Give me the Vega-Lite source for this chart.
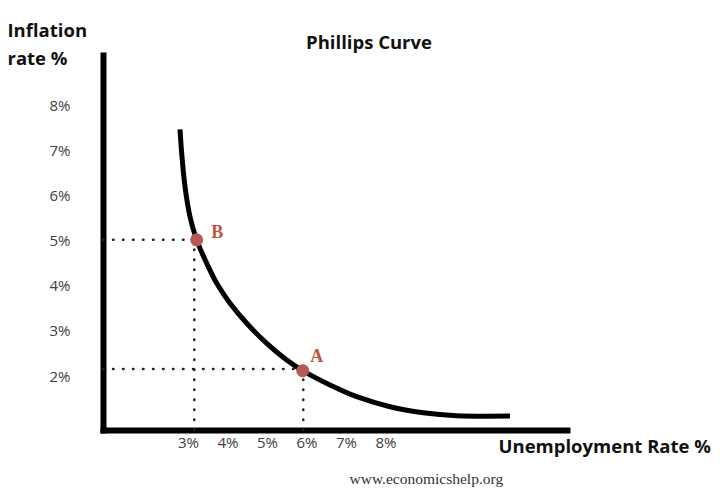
{
  "$schema": "https://vega.github.io/schema/vega-lite/v6.json",
  "width": 464,
  "height": 375,
  "autosize": {"type": "none"},
  "padding": {"left": 103, "top": 55, "right": 153, "bottom": 72},
  "background": "white",
  "config": {"view": {"stroke": null}},
  "datasets": {
    "curve": [
      {"x": 2.798, "y": 7.47},
      {"x": 2.841, "y": 6.938},
      {"x": 2.925, "y": 6.197},
      {"x": 3.051, "y": 5.532},
      {"x": 3.221, "y": 5.016},
      {"x": 3.474, "y": 4.499},
      {"x": 3.728, "y": 4.055},
      {"x": 4.064, "y": 3.612},
      {"x": 4.487, "y": 3.169},
      {"x": 4.994, "y": 2.725},
      {"x": 5.5, "y": 2.355},
      {"x": 5.905, "y": 2.118},
      {"x": 6.597, "y": 1.8},
      {"x": 7.273, "y": 1.541},
      {"x": 8.116, "y": 1.319},
      {"x": 8.959, "y": 1.186},
      {"x": 9.805, "y": 1.12},
      {"x": 11.155, "y": 1.113}
    ],
    "points": [
      {"name": "B", "x": 3.22, "y": 5.02},
      {"name": "A", "x": 5.905, "y": 2.118}
    ],
    "guides": [
      {"x": 0.848, "y": 5.02, "x2": 3.22, "y2": 5.02},
      {"x": 3.16, "y": 0.803, "x2": 3.16, "y2": 5.02},
      {"x": 0.848, "y": 2.155, "x2": 5.905, "y2": 2.155},
      {"x": 5.92, "y": 0.803, "x2": 5.92, "y2": 2.118}
    ]
  },
  "resolve": {"axis": {"x": "independent", "y": "independent"}},
  "layer": [
    {
      "data": {"name": "guides"},
      "mark": {"type": "rule", "color": "#222", "strokeWidth": 2.5, "strokeDash": [0.5, 9.5], "strokeCap": "round"},
      "encoding": {
        "x": {"field": "x", "type": "quantitative", "scale": {"domain": [0.848, 12.598], "nice": false, "zero": false}, "axis": null},
        "y": {"field": "y", "type": "quantitative", "scale": {"domain": [0.803, 9.117], "nice": false, "zero": false}, "axis": null},
        "x2": {"field": "x2"},
        "y2": {"field": "y2"}
      }
    },
    {
      "data": {"name": "curve"},
      "mark": {"type": "line", "color": "black", "strokeWidth": 5, "interpolate": "catmull-rom", "strokeCap": "butt"},
      "encoding": {
        "x": {
          "field": "x", "type": "quantitative",
          "scale": {"domain": [0.848, 12.598], "nice": false, "zero": false},
          "axis": {
            "orient": "bottom",
            "values": [3, 4, 5, 6, 7, 8],
            "labelExpr": "datum.value + '%'",
            "grid": false, "ticks": false,
            "domainColor": "black", "domainWidth": 6, "domainCap": "square",
            "labelFont": "Open Sans", "labelFontSize": 15, "labelColor": "#404040", "labelPadding": 5,
            "title": "Unemployment Rate %",
            "titleFont": "Open Sans", "titleFontSize": 18.5, "titleFontWeight": 700, "titleColor": "#111",
            "titleAlign": "left", "titleBaseline": "alphabetic", "titleX": 395, "titleY": 22
          }
        },
        "y": {
          "field": "y", "type": "quantitative",
          "scale": {"domain": [0.803, 9.117], "nice": false, "zero": false},
          "axis": {
            "orient": "left",
            "values": [2, 3, 4, 5, 6, 7, 8],
            "labelExpr": "datum.value + '%'",
            "grid": false, "ticks": false,
            "domainColor": "black", "domainWidth": 6, "domainCap": "square",
            "labelFont": "Open Sans", "labelFontSize": 15, "labelColor": "#404040", "labelPadding": 33,
            "title": ["Inflation", "rate %"],
            "titleFont": "Open Sans", "titleFontSize": 18.5, "titleFontWeight": 700, "titleColor": "#111",
            "titleAngle": 0, "titleAlign": "left", "titleBaseline": "alphabetic",
            "titleX": -96, "titleY": -19, "titleLineHeight": 28
          }
        }
      }
    },
    {
      "data": {"name": "points"},
      "mark": {"type": "circle", "color": "#b5585a", "opacity": 1, "size": 170},
      "encoding": {
        "x": {
          "field": "x", "type": "quantitative",
          "scale": {"domain": [0.848, 12.598], "nice": false, "zero": false},
          "axis": {
            "orient": "top", "domain": false, "ticks": false, "labels": false, "grid": false,
            "title": "Phillips Curve",
            "titleFont": "Open Sans", "titleFontSize": 18.5, "titleFontWeight": 700, "titleColor": "#111",
            "titleAlign": "center", "titleBaseline": "alphabetic", "titleX": 265.5, "titleY": -7
          }
        },
        "y": {
          "field": "y", "type": "quantitative",
          "scale": {"domain": [0.803, 9.117], "nice": false, "zero": false},
          "axis": {
            "orient": "right", "domain": false, "ticks": false, "labels": false, "grid": false,
            "title": "www.economicshelp.org",
            "titleFont": "Liberation Serif", "titleFontSize": 15.5, "titleFontWeight": "normal", "titleColor": "#333",
            "titleAngle": 0, "titleAlign": "left", "titleBaseline": "alphabetic", "titleX": -218, "titleY": 428
          }
        }
      }
    },
    {
      "data": {"name": "points"},
      "transform": [{"filter": "datum.name === 'B'"}],
      "mark": {"type": "text", "color": "#c4523f", "font": "Liberation Serif", "fontSize": 18, "fontWeight": "bold", "align": "center", "baseline": "middle", "dx": 20.5, "dy": -6.7},
      "encoding": {
        "x": {"field": "x", "type": "quantitative", "scale": {"domain": [0.848, 12.598], "nice": false, "zero": false}, "axis": null},
        "y": {"field": "y", "type": "quantitative", "scale": {"domain": [0.803, 9.117], "nice": false, "zero": false}, "axis": null},
        "text": {"field": "name"}
      }
    },
    {
      "data": {"name": "points"},
      "transform": [{"filter": "datum.name === 'A'"}],
      "mark": {"type": "text", "color": "#c4523f", "font": "Liberation Serif", "fontSize": 18, "fontWeight": "bold", "align": "center", "baseline": "middle", "dx": 14, "dy": -13.7},
      "encoding": {
        "x": {"field": "x", "type": "quantitative", "scale": {"domain": [0.848, 12.598], "nice": false, "zero": false}, "axis": null},
        "y": {"field": "y", "type": "quantitative", "scale": {"domain": [0.803, 9.117], "nice": false, "zero": false}, "axis": null},
        "text": {"field": "name"}
      }
    }
  ]
}
